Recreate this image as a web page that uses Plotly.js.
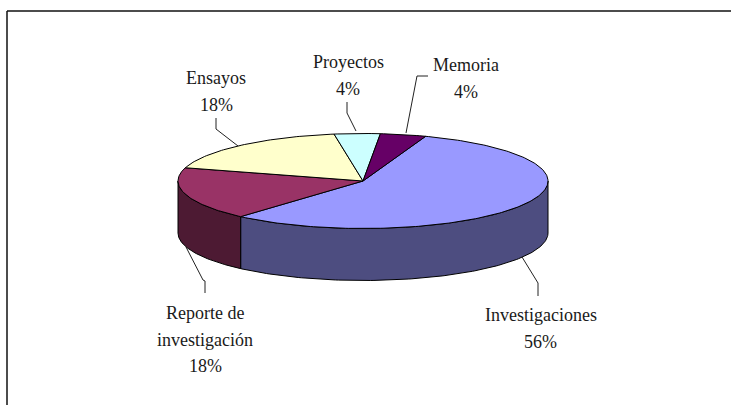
<!DOCTYPE html>
<html><head><meta charset="utf-8">
<script src="https://cdn.plot.ly/plotly-3.0.1.min.js"></script>
<style>html,body{margin:0;padding:0;background:#fff}#c{width:731px;height:405px}</style></head>
<body><div id="c"></div>
<script>
const categories = [["Investigaciones"],["Reporte de","investigación"],["Ensayos"],["Proyectos"],["Memoria"]];
const values = [56,18,18,4,4];
const topColors = ["#9999FF","#993366","#FFFFCC","#CCFFFF","#660066"];
const sideColors = ["#4D4D80","#4D1A33","#808066","#668080","#330033"];
const labelX = [540.5,205,216,348,465.5];
const labelY = [315,313,78,62,65];
const lineGap = 26.5;
const leaders = [
  {x:[522,538,538],y:[257,283,296]},
  {x:[186,203,205,205],y:[247,280,281,293]},
  {x:[238,216,216],y:[146,129,118]},
  {x:[356,347,347],y:[131,113,102]},
  {x:[406,417,428],y:[133,76,76]}
];
const cx=363, cy=181, rx=185, ry=47.5, depth=52, startDeg=19.8;
const rad=d=>d*Math.PI/180;
const px=t=>cx+rx*Math.sin(rad(t));
const py=t=>cy-ry*Math.cos(rad(t));
function arc(a,b){const xs=[],ys=[];const n=Math.max(2,Math.ceil(Math.abs(b-a)));
  for(let i=0;i<=n;i++){const t=a+(b-a)*i/n;xs.push(px(t));ys.push(py(t));}return [xs,ys];}
const total=values.reduce((s,v)=>s+v,0);
let angle=startDeg; const sides=[],tops=[];
values.forEach((v,i)=>{
  const a=angle,b=angle+v/total*360; angle=b;
  const [ax,ay]=arc(a,b);
  tops.push({type:"scatter",mode:"lines",fill:"toself",fillcolor:topColors[i],
    x:[cx,...ax,cx],y:[cy,...ay,cy],line:{color:"#000",width:1},hoverinfo:"skip"});
  const s=Math.max(a,90),e=Math.min(b,270);
  if(e>s){const [sx,sy]=arc(s,e);
    sides.push({type:"scatter",mode:"lines",fill:"toself",fillcolor:sideColors[i],
      x:[...sx,...sx.slice().reverse(),sx[0]],
      y:[...sy,...sy.slice().reverse().map(y=>y+depth),sy[0]],
      line:{color:"#000",width:1},hoverinfo:"skip"});}
});
const leaderTraces=leaders.map(l=>({type:"scatter",mode:"lines",x:l.x,y:l.y,line:{color:"#222",width:1},hoverinfo:"skip"}));
const annotations=[];
categories.forEach((c,i)=>{
  [...c,values[i]+"%"].forEach((t,j)=>annotations.push({x:labelX[i],y:labelY[i]+j*lineGap,xref:"x",yref:"y",showarrow:false,
    text:t,font:{family:"Liberation Serif, serif",size:18,color:"#1a1a1a"}}));
});
const layout={width:731,height:405,margin:{l:0,r:0,t:0,b:0},showlegend:false,paper_bgcolor:"#fff",plot_bgcolor:"#fff",
  xaxis:{range:[0,731],visible:false,fixedrange:true},
  yaxis:{range:[405,0],visible:false,fixedrange:true},
  annotations,
  shapes:[
    {type:"line",xref:"x",yref:"y",x0:7,y0:11,x1:731,y1:11,line:{color:"#111",width:1.5}},
    {type:"line",xref:"x",yref:"y",x0:7,y0:11,x1:7,y1:405,line:{color:"#111",width:1.5}}
  ]};
Plotly.newPlot("c",[...leaderTraces,...sides,...tops],layout,{displayModeBar:false,staticPlot:true});
</script></body></html>
